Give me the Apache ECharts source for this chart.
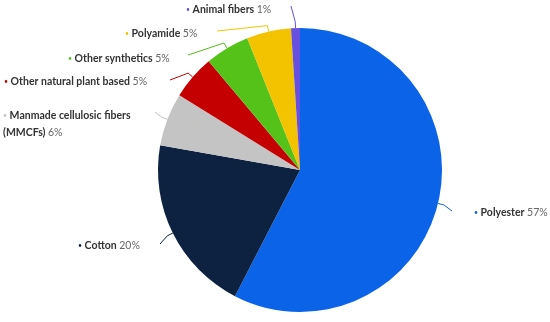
<!DOCTYPE html>
<html>
<head>
<meta charset="utf-8">
<script src="https://cdn.jsdelivr.net/npm/echarts@6/dist/echarts.min.js"></script>
<style>
	html, body { margin: 0; padding: 0; background: #fff; }
	#main { width: 550px; height: 322px; }
</style>
</head>
<body>
<div id="main"></div>
<script>
	// fibre shares, clockwise from 12 o'clock
	var names = ['Polyester', 'Cotton', 'Manmade cellulosic fibers\n(MMCFs)', 'Other natural plant based', 'Other synthetics', 'Polyamide', 'Animal fibers'];
	var values = [57, 20, 6, 5, 5, 5, 1];
	var colors = ['#0b63e8', '#0c2240', '#c4c4c4', '#c40000', '#55c21a', '#f4c300', '#6650dd'];

	// label anchor (left / middle) and where the leader line stops
	var labelPos = [[474, 213], [78, 246], [3, 124], [4, 82], [68, 59], [125, 34], [186, 10]];
	var lineEnd = [[452, 211], [160, 244], [155, 112], [170, 80], [188, 55], [217, 31], [291, 6]];

	var CX = 300, CY = 170, R = 142;

	var chart = echarts.init(document.getElementById('main'));

	var pieData = names.map(function(n, i) {
		return { name: n, value: values[i], itemStyle: { color: colors[i] } };
	});

	var total = values.reduce(function(a, b) { return a + b; }, 0);
	//扇区中线上离圆心 r 的点
	function radialPoint(i, r) {
		var cum = 0;
		for (var k = 0; k < i; k++) cum += values[k];
		var a = (90 - 360 * (cum + values[i] / 2) / total) * Math.PI / 180;
		return [CX + r * Math.cos(a), CY - r * Math.sin(a)];
	}

	chart.setOption({
		animation: false,
		series: [{
			type: 'pie',
			center: [CX, CY],
			radius: R,
			startAngle: 90,
			clockwise: true,
			avoidLabelOverlap: false,
			data: pieData,
			label: {
				position: 'outside',
				fontFamily: 'Lato',
				fontSize: 10,
				lineHeight: 17,
				formatter: function(p) {
					var parts = p.name.split('\n');
					var s = '{dot|•} ' + parts.map(function(t) { return '{b|' + t + '}'; }).join('\n');
					return s + ' {p|' + p.value + '%}';
				},
				rich: {
					dot: { fontSize: 7, color: 'inherit', fontFamily: 'Lato' },
					b: { fontWeight: 'bold', color: '#333', fontSize: 10.5, fontFamily: 'Lato', lineHeight: 17 },
					p: { color: '#666', fontSize: 10.5, fontFamily: 'Lato', lineHeight: 17 }
				}
			},
			labelLine: {
				show: true,
				lineStyle: { width: 1 }
			},
			labelLayout: function(params) {
				var i = params.dataIndex;
				return {
					x: labelPos[i][0],
					y: labelPos[i][1],
					align: 'left',
					verticalAlign: 'middle',
					labelLinePoints: [radialPoint(i, R), radialPoint(i, R + 6), lineEnd[i]]
				};
			}
		}]
	});
</script>
</body>
</html>
